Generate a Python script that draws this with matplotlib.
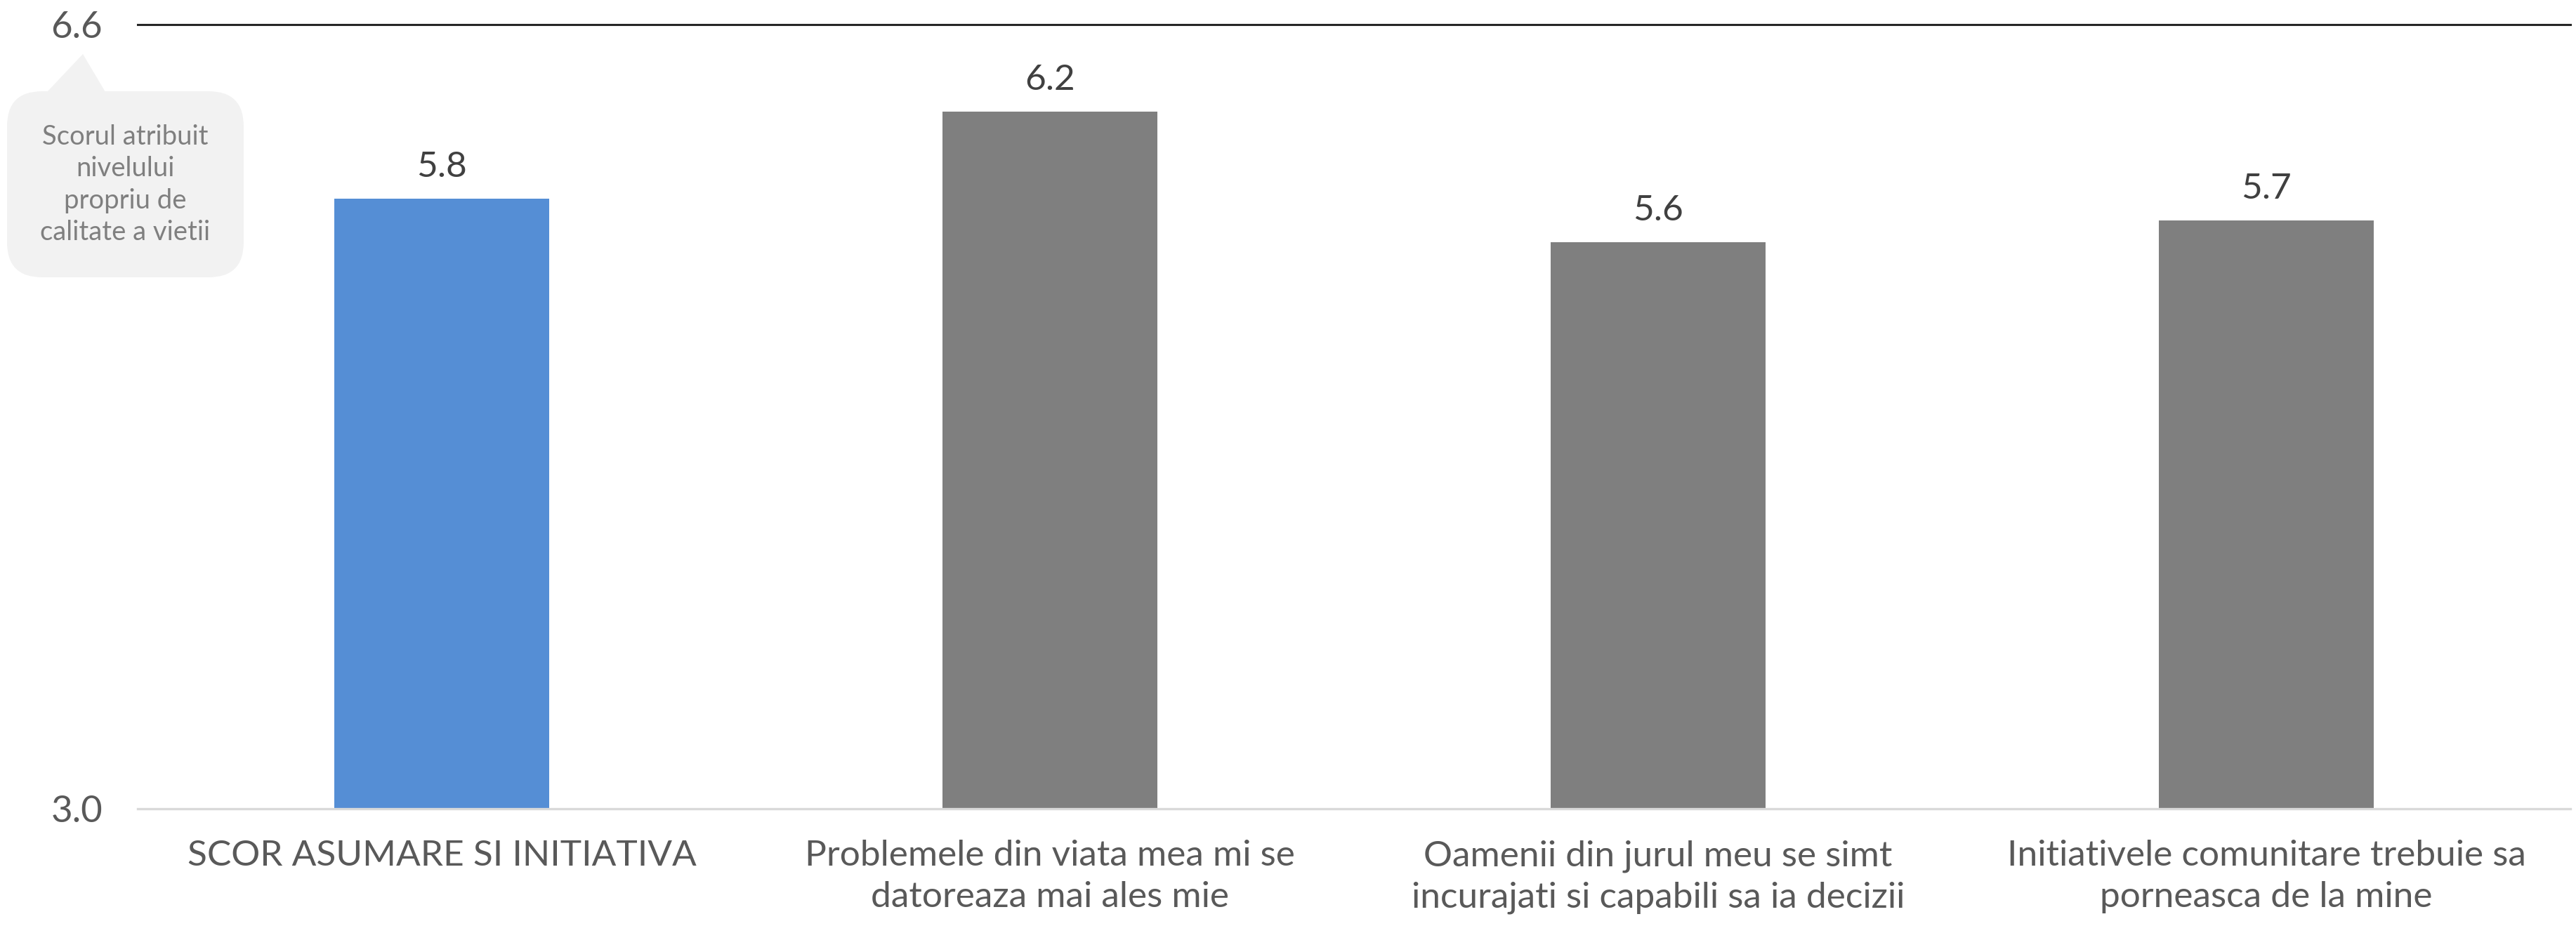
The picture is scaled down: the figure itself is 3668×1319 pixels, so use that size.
import matplotlib
matplotlib.use("Agg")
import matplotlib.pyplot as plt
from matplotlib.patches import FancyBboxPatch, Polygon

# Chart data
categories = [
    "SCOR ASUMARE SI INITIATIVA",
    "Problemele din viata mea mi se\ndatoreaza mai ales mie",
    "Oamenii din jurul meu se simt\nincurajati si capabili sa ia decizii",
    "Initiativele comunitare trebuie sa\nporneasca de la mine",
]
values = [5.8, 6.2, 5.6, 5.7]
y_ticks = [3.0, 6.6]
callout_text = "Scorul atribuit\nnivelului\npropriu de\ncalitate a vietii"

bar_colors = ["#558ED5", "#7F7F7F", "#7F7F7F", "#7F7F7F"]

plt.rcParams["font.family"] = ["Lato", "DejaVu Sans"]

W, H, DPI = 3668, 1319, 100
fig = plt.figure(figsize=(W / DPI, H / DPI), dpi=DPI)
fig.patch.set_facecolor("white")


def px_axes(left, top, right, bottom):
    return [left / W, 1 - bottom / H, (right - left) / W, (bottom - top) / H]


ax = fig.add_axes(px_axes(196, 35, 3660, 1152))
x = list(range(len(categories)))
bars = ax.bar(x, values, width=0.354, color=bar_colors, zorder=2)

ax.set_xlim(-0.5, len(categories) - 0.5)
ax.set_ylim(y_ticks[0], y_ticks[-1])
ax.set_yticks(y_ticks)
ax.set_yticklabels([f"{v:.1f}" for v in y_ticks])
ax.set_xticks(x)
ax.set_xticklabels(categories, linespacing=1.33)

ax.tick_params(axis="x", length=0, pad=32, labelsize=37, labelcolor="#595959")
ax.tick_params(axis="y", length=0, pad=36, labelsize=38, labelcolor="#595959")

for side in ("left", "right"):
    ax.spines[side].set_visible(False)
ax.spines["top"].set_color("#262626")
ax.spines["top"].set_linewidth(2.2)
ax.spines["bottom"].set_color("#d9d9d9")
ax.spines["bottom"].set_linewidth(2.4)

ax.bar_label(bars, labels=[f"{v:.1f}" for v in values], padding=16,
             fontsize=37, color="#404040")

# Speech-bubble note beside the y axis (pixel layout, origin at top-left)
def to_in(px, py):
    return (px / DPI, (H - py) / DPI)


bx0, by0, bx1, by1 = 10, 130, 347, 395
x0, y0 = to_in(bx0, by1)
box = FancyBboxPatch((x0, y0), (bx1 - bx0) / DPI, (by1 - by0) / DPI,
                     boxstyle="round,pad=0,rounding_size=0.5",
                     transform=fig.dpi_scale_trans, facecolor="#f2f2f2",
                     edgecolor="none", zorder=5)
fig.patches.append(box)
tri = Polygon([to_in(67, 131), to_in(118, 77), to_in(150, 131)],
              closed=True, transform=fig.dpi_scale_trans,
              facecolor="#f2f2f2", edgecolor="none", zorder=5)
fig.patches.append(tri)
tx, ty = to_in(178, 263)
fig.text(tx / (W / DPI), ty / (H / DPI), callout_text, ha="center",
         va="center", fontsize=27.5, color="#7f7f7f", linespacing=1.33,
         zorder=6)

fig.savefig("out.png", dpi=DPI, facecolor="white")
